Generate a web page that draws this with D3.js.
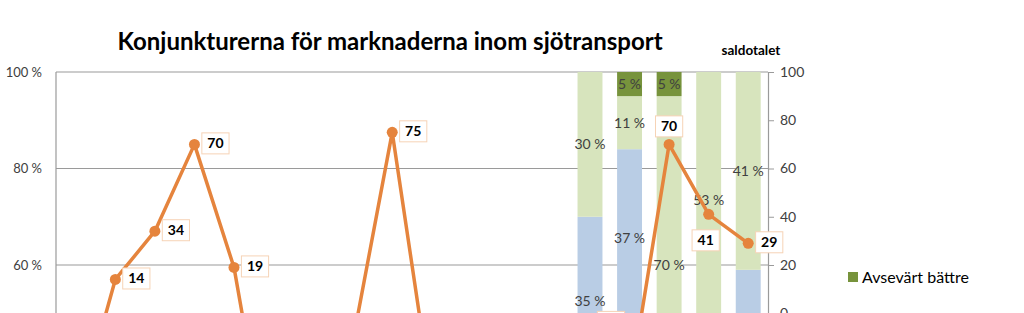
<!DOCTYPE html>
<html>
<head>
<meta charset="utf-8">
<script src="https://cdn.jsdelivr.net/npm/d3@7"></script>
<style>
  body { margin: 0; background: #fff; }
  svg { font-family: Lato, "Open Sans", sans-serif; display: block; }
</style>
</head>
<body>
<svg id="chart" width="1024" height="313"></svg>
<script>
// categories (18 periods, bars only for the last five)
const categories = d3.range(18).map(i => `p${i + 1}`);

// stacked shares (%) – order bottom to top
const seriesNames = ['Sämre', 'Oförändrat', 'Något bättre', 'Avsevärt bättre'];
const worse      = [null, null, null, null, null, null, null, null, null, null, null, null, null, 35, 47, 5, 12, 12];
const unchanged  = [null, null, null, null, null, null, null, null, null, null, null, null, null, 35, 37, 20, 35, 47];
const someBetter = [null, null, null, null, null, null, null, null, null, null, null, null, null, 30, 11, 70, 53, 41];
const muchBetter = [null, null, null, null, null, null, null, null, null, null, null, null, null, 0, 5, 5, 0, 0];

// saldotalet (right axis)
const saldo = [-45, 14, 34, 70, 19, -74, -50, -12, 75, -35, -30, -20, -15, -4, -31, 70, 41, 29];

const leftTicks = [0, 20, 40, 60, 80, 100];
const rightTicks = [-100, -80, -60, -40, -20, 0, 20, 40, 60, 80, 100];
const legendItems = ['Avsevärt bättre', 'Något bättre', 'Oförändrat', 'Sämre'];

const colors = {
  'Avsevärt bättre': '#77933c',
  'Något bättre': '#d7e4bd',
  'Oförändrat': '#b9cde5',
  'Sämre': '#95b3d7'
};
const lineColor = '#e5843d';

const svg = d3.select('#chart');
const plot = { left: 56, right: 768, top: 72, bottom: 554.5 };

const x = d3.scaleBand().domain(categories).range([plot.left, plot.right]).paddingInner(0.37).paddingOuter(0.185);
const xc = i => x(categories[i]) + x.bandwidth() / 2;
const yL = d3.scaleLinear().domain([0, 100]).range([plot.bottom, plot.top]);
const yR = d3.scaleLinear().domain([-100, 100]).range([plot.bottom, plot.top]);

// title
svg.append('text')
  .attr('x', 390).attr('y', 50)
  .attr('text-anchor', 'middle')
  .style('font-size', '24px').style('font-weight', 'bold').style('fill', '#000')
  .text('Konjunkturerna för marknaderna inom sjötransport');

svg.append('text')
  .attr('x', 751).attr('y', 55)
  .attr('text-anchor', 'middle')
  .style('font-size', '13.5px').style('font-weight', 'bold').style('fill', '#000')
  .text('saldotalet');

// gridlines
svg.append('g').selectAll('line')
  .data(leftTicks)
  .join('line')
  .attr('x1', plot.left).attr('x2', plot.right)
  .attr('y1', d => yL(d)).attr('y2', d => yL(d))
  .style('stroke', '#9a9a9a').style('stroke-width', 1.2);

// left axis line
svg.append('line')
  .attr('x1', plot.left).attr('x2', plot.left)
  .attr('y1', plot.top).attr('y2', plot.bottom)
  .style('stroke', '#9a9a9a').style('stroke-width', 1.2);

// left axis labels
svg.append('g').selectAll('text')
  .data(leftTicks)
  .join('text')
  .attr('x', 42).attr('y', d => yL(d))
  .attr('dy', '0.35em')
  .attr('text-anchor', 'end')
  .style('font-size', '13px').style('fill', '#404040')
  .text(d => `${d} %`);

// stacked bars
const rows = categories.map((c, i) => ({
  cat: c,
  'Sämre': worse[i], 'Oförändrat': unchanged[i],
  'Något bättre': someBetter[i], 'Avsevärt bättre': muchBetter[i]
})).filter(r => r['Sämre'] !== null);

const stacked = d3.stack().keys(seriesNames)(rows);

const layer = svg.append('g').selectAll('g')
  .data(stacked)
  .join('g')
  .style('fill', d => colors[d.key]);

layer.selectAll('rect')
  .data(d => d)
  .join('rect')
  .attr('x', d => x(d.data.cat))
  .attr('width', x.bandwidth())
  .attr('y', d => yL(d[1]))
  .attr('height', d => yL(d[0]) - yL(d[1]));

layer.selectAll('text')
  .data(d => d.filter(s => s[1] - s[0] > 0).map(s => ({ s, key: d.key })))
  .join('text')
  .attr('x', d => x(d.s.data.cat) + x.bandwidth() / 2)
  .attr('y', d => yL((d.s[0] + d.s[1]) / 2))
  .attr('dy', '0.35em')
  .attr('text-anchor', 'middle')
  .style('font-size', '14px').style('fill', '#404040')
  .text(d => `${d.s[1] - d.s[0]} %`);

// right axis
const rAxis = svg.append('g')
  .attr('transform', `translate(${plot.right},0)`)
  .call(d3.axisRight(yR).tickValues(rightTicks).tickSize(6).tickPadding(6).tickFormat(d => d));
rAxis.select('.domain').style('stroke', '#9a9a9a').style('stroke-width', 1.2);
rAxis.selectAll('.tick line').style('stroke', '#9a9a9a');
rAxis.selectAll('.tick text')
  .style('font-size', '14px').style('fill', '#404040')
  .style('font-family', 'Lato, sans-serif');

// saldo line
const line = d3.line().x((d, i) => xc(i)).y(d => yR(d));
svg.append('path')
  .datum(saldo)
  .attr('d', line)
  .style('fill', 'none')
  .style('stroke', lineColor)
  .style('stroke-width', 3.5)
  .style('stroke-linejoin', 'round');

svg.append('g').selectAll('circle')
  .data(saldo)
  .join('circle')
  .attr('cx', (d, i) => xc(i))
  .attr('cy', d => yR(d))
  .attr('r', 5.5)
  .style('fill', lineColor);

// data labels (boxed)
const labelPlace = { 15: 'above', 16: 'below' };
const lab = svg.append('g').selectAll('g')
  .data(saldo.map((v, i) => ({ v, i })))
  .join('g')
  .attr('transform', d => {
    const px = xc(d.i), py = yR(d.v);
    const p = labelPlace[d.i];
    if (p === 'above') return `translate(${px},${py - 18})`;
    if (p === 'below') return `translate(${px - 3},${py + 26})`;
    return `translate(${px + 10 + 11},${py - 1})`;
  });

lab.append('rect')
  .attr('x', d => -(String(d.v).length * 4.3 + 5))
  .attr('width', d => String(d.v).length * 8.6 + 10)
  .attr('y', -10.5).attr('height', 21)
  .style('fill', '#fff')
  .style('stroke', '#f6d3b6')
  .style('stroke-width', 1);

lab.append('text')
  .attr('text-anchor', 'middle')
  .attr('dy', '0.35em')
  .style('font-size', '14px').style('font-weight', 'bold').style('fill', '#000')
  .text(d => d.v);

// legend
const leg = svg.append('g').selectAll('g')
  .data(legendItems)
  .join('g')
  .attr('transform', (d, i) => `translate(848,${277 + i * 44})`);
leg.append('rect')
  .attr('y', -5).attr('width', 10).attr('height', 10)
  .style('fill', d => colors[d]);
leg.append('text')
  .attr('x', 14).attr('dy', '0.35em')
  .style('font-size', '16px').style('fill', '#000')
  .text(d => d);
</script>
</body>
</html>
